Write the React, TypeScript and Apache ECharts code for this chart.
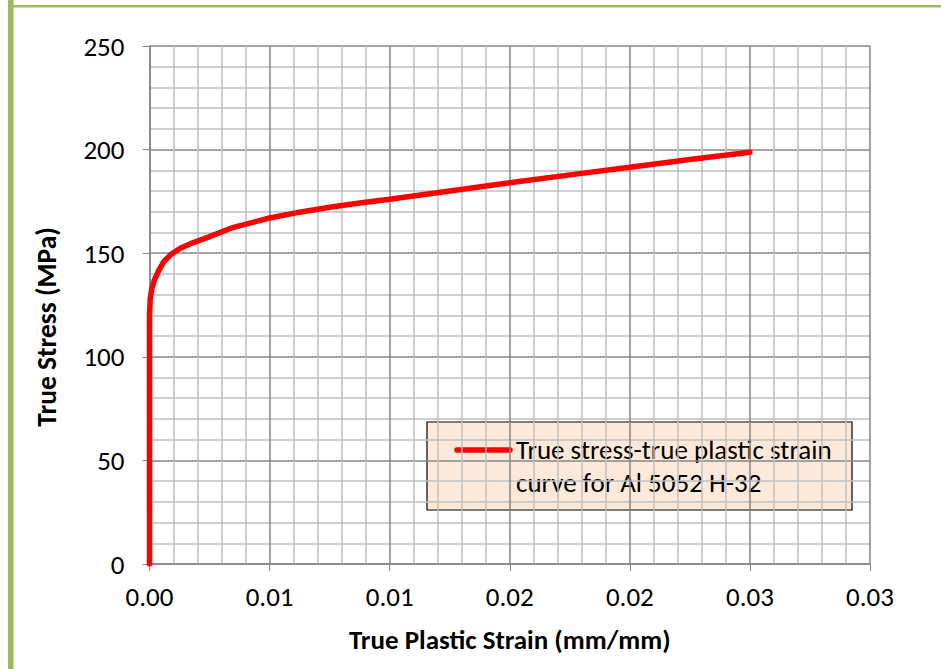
import React, { useEffect, useRef } from "react";
import * as echarts from "echarts";

// True plastic strain (mm/mm) and true stress (MPa) for Al 5052 H-32
const strain = [
  0, 0, 0.00003, 0.0001, 0.0002, 0.0004, 0.0006, 0.0009, 0.0013, 0.0018,
  0.0025, 0.0035, 0.005, 0.00625, 0.0075, 0.00875, 0.01, 0.0125, 0.015,
  0.0175, 0.02, 0.0225, 0.025,
];
const stress = [
  0, 120, 128, 133, 137, 142, 146, 149.5, 152.5, 155, 158, 162.5, 167, 169.8,
  172.2, 174.2, 176, 180, 184, 187.8, 191.5, 195.2, 198.7,
];

// Axis tick labels as printed with two decimals
const xTickLabels = ["0.00", "0.01", "0.01", "0.02", "0.02", "0.03", "0.03"];
const yTickLabels = ["0", "50", "100", "150", "200", "250"];

const legendLines = ["True stress-true plastic strain", "curve for Al 5052 H-32"];

const FONT = "Carlito, Calibri, Lato, sans-serif";
const MAJOR = "#868686";
const MINOR = "#bfbfbf";

export default function App() {
  const ref = useRef<HTMLDivElement>(null);

  useEffect(() => {
    if (!ref.current) return;
    const chart = echarts.init(ref.current, undefined, { renderer: "svg" });
    const data = strain.map((x, i) => [x, stress[i]]);

    chart.setOption({
      animation: false,
      backgroundColor: "#ffffff",
      grid: { left: 149.5, right: 71, top: 46, bottom: 105, containLabel: false },
      xAxis: {
        type: "value",
        min: 0,
        max: 0.03,
        interval: 0.005,
        name: "True Plastic Strain (mm/mm)",
        nameLocation: "middle",
        nameGap: 62,
        nameTextStyle: { fontFamily: FONT, fontWeight: "bold", fontSize: 27, color: "#000" },
        axisLine: { show: true, lineStyle: { color: MAJOR, width: 1.5 } },
        axisTick: { show: true, inside: false, length: 7, lineStyle: { color: MAJOR } },
        minorTick: { show: false, splitNumber: 5 },
        axisLabel: {
          margin: 19,
          fontFamily: FONT,
          fontSize: 27,
          color: "#000",
          formatter: (v: number) => xTickLabels[Math.round(v / 0.005)] ?? "",
        },
        splitLine: { show: true, lineStyle: { color: MAJOR, width: 1.5 } },
        minorSplitLine: { show: true, lineStyle: { color: MINOR, width: 1.5 } },
      },
      yAxis: {
        type: "value",
        min: 0,
        max: 250,
        interval: 50,
        axisLine: { show: true, lineStyle: { color: MAJOR, width: 1.5 } },
        axisTick: { show: true, inside: false, length: 7, lineStyle: { color: MAJOR } },
        minorTick: { show: false, splitNumber: 5 },
        axisLabel: {
          margin: 25,
          fontFamily: FONT,
          fontSize: 27,
          color: "#000",
          formatter: (v: number) => yTickLabels[Math.round(v / 50)] ?? "",
        },
        splitLine: { show: true, lineStyle: { color: MAJOR, width: 1.5 } },
        minorSplitLine: { show: true, lineStyle: { color: MINOR, width: 1.5 } },
      },
      series: [
        {
          type: "line",
          name: legendLines.join(" "),
          data,
          showSymbol: false,
          smooth: false,
          lineStyle: { color: "#ff0000", width: 5.5, cap: "round", join: "round" },
          z: 5,
        },
      ],
      graphic: [
        // Frame edges
        { type: "rect", shape: { x: 8, y: 0, width: 5.5, height: 669 }, style: { fill: "#9bbb59" }, z: 10 },
        { type: "rect", shape: { x: 8, y: 5, width: 933, height: 2.5 }, style: { fill: "#9bbb59" }, z: 10 },
        // Y axis title
        {
          type: "text",
          x: 46,
          y: 327,
          rotation: Math.PI / 2,
          style: {
            text: "True Stress (MPa)",
            fontFamily: FONT,
            fontWeight: "bold",
            fontSize: 27.5,
            fill: "#000",
            align: "center",
            verticalAlign: "middle",
          },
        },
        // Legend box
        {
          type: "group",
          z: 20,
          children: [
            {
              type: "rect",
              shape: { x: 427, y: 422, width: 425, height: 88 },
              style: { fill: "#fde9d9", stroke: "#000", lineWidth: 1.2 },
            },
            {
              type: "line",
              shape: { x1: 457, y1: 450, x2: 510, y2: 450 },
              style: { stroke: "#ff0000", lineWidth: 5.5, lineCap: "round" },
            },
            {
              type: "text",
              x: 516,
              y: 449,
              style: {
                text: legendLines[0],
                fontFamily: FONT,
                fontSize: 27,
                fill: "#000",
                verticalAlign: "middle",
              },
            },
            {
              type: "text",
              x: 516,
              y: 482,
              style: {
                text: legendLines[1],
                fontFamily: FONT,
                fontSize: 27,
                fill: "#000",
                verticalAlign: "middle",
              },
            },
          ],
        },
      ],
    });

    return () => chart.dispose();
  }, []);

  return (
    <div
      ref={ref}
      style={{ position: "fixed", left: 0, top: 0, width: 941, height: 669 }}
    />
  );
}
